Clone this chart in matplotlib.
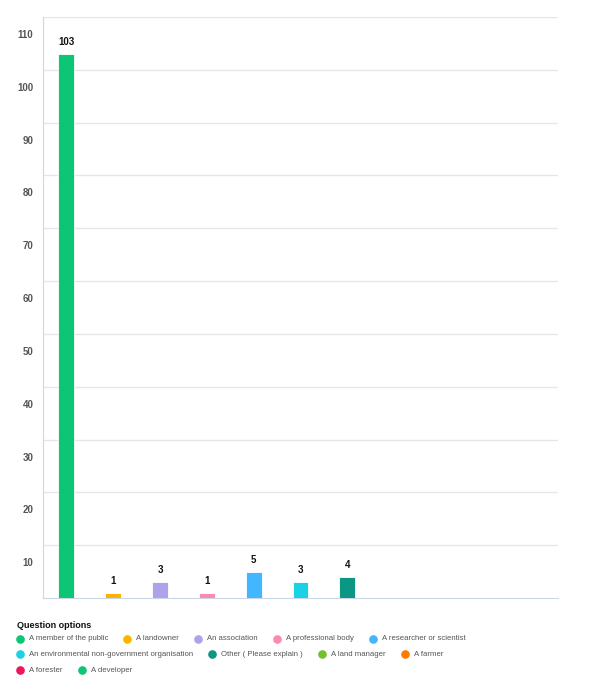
import matplotlib.pyplot as plt
from matplotlib.transforms import ScaledTranslation
from matplotlib.lines import Line2D

plt.rcParams['font.family'] = ['Liberation Sans', 'DejaVu Sans']

# data
categories = ["A member of the public", "A landowner", "An association",
              "A professional body", "A researcher or scientist",
              "An environmental non-government organisation",
              "Other ( Please explain )", "A land manager", "A farmer",
              "A forester", "A developer"]
counts = [103, 1, 3, 1, 5, 3, 4, 0, 0, 0, 0]
colors = ["#0cc575", "#ffb300", "#ada3e8", "#f98bb0", "#42b6ff",
          "#1bd2e4", "#0a9784", "#72c02c", "#ff7a00", "#f0145a", "#0cc575"]
yticks = list(range(10, 111, 10))

fig = plt.figure(figsize=(6, 6.86), dpi=100)
ax = fig.add_axes([0.0717, 0.1283, 0.8583, 0.8469])

x = list(range(len(categories)))
bars = ax.bar(x, counts, width=0.34, color=colors, edgecolor="white", linewidth=0.6, zorder=3)
for xi, c in zip(x, counts):
    if c > 0:
        ax.annotate(str(c), (xi, c), xytext=(0, 5), textcoords="offset points",
                    ha="center", va="bottom", fontsize=7, fontweight="bold", color="#111111")

ax.set_xlim(-0.5, len(categories) - 0.5)
ax.set_ylim(0, 110)
ax.set_yticks(yticks)
ax.set_yticklabels([str(t) for t in yticks])
ax.set_xticks([])
ax.yaxis.grid(True, color="#e6e6e6", linewidth=1, zorder=0)
ax.tick_params(axis="y", length=0, pad=7, labelsize=7, labelcolor="#555555")
for lab in ax.get_yticklabels():
    lab.set_fontweight("bold")
    lab.set_transform(lab.get_transform() + ScaledTranslation(0, -0.17, fig.dpi_scale_trans))

for s in ["top", "right"]:
    ax.spines[s].set_visible(False)
ax.spines["left"].set_color("#ccd6eb")
ax.spines["bottom"].set_color("#ccd6eb")

# legend (custom flow layout)
W, H = fig.get_size_inches() * fig.dpi
fig.text(17 / W, 1 - 625 / H, "Question options", fontsize=6.5, fontweight="bold",
         color="#111111", va="center", ha="left")
renderer = fig.canvas.get_renderer()
cx, row = 20, 0
row_y = [639, 654, 670]
max_x = 475
for name, col in zip(categories, colors):
    t = fig.text(0, 0, name, fontsize=5.6, color="#555555", va="center", ha="left")
    tw = t.get_window_extent(renderer).width
    if cx + 9 + tw > max_x:
        row += 1
        cx = 20
    y = 1 - row_y[row] / H
    fig.add_artist(Line2D([cx / W], [y], marker="o", markersize=5.2, color=col,
                          linestyle="", transform=fig.transFigure))
    t.set_position(((cx + 9) / W, y))
    cx += 9 + tw + 19

fig.savefig("out.png", dpi=100)
